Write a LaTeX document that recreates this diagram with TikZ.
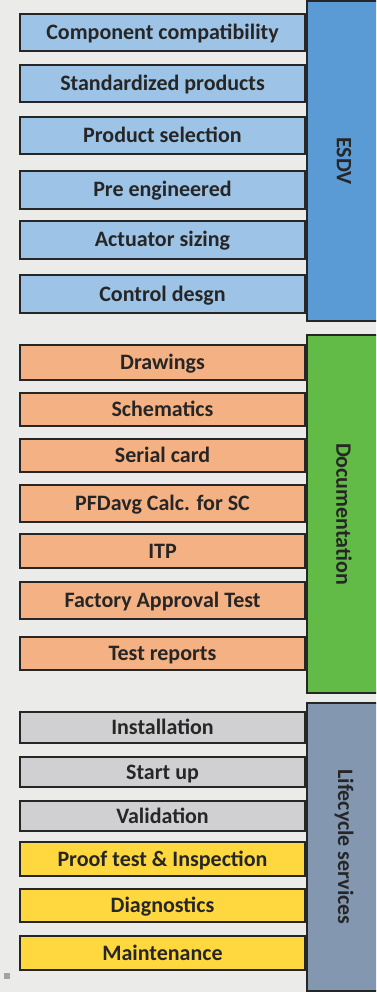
\documentclass[tikz,border=0pt]{standalone}
\usepackage{fontspec}
\setmainfont{Carlito}
\definecolor{bg}{HTML}{EBEBE9}
\definecolor{ink}{HTML}{262626}
\definecolor{lblue}{HTML}{9DC3E6}
\definecolor{dblue}{HTML}{5B9BD5}
\definecolor{peach}{HTML}{F4B183}
\definecolor{leaf}{HTML}{62BB46}
\definecolor{slate}{HTML}{8497B0}
\definecolor{lgray}{HTML}{D0D0D2}
\definecolor{sun}{HTML}{FFD83F}
\definecolor{dot}{HTML}{A3A3A3}
\tikzset{
  item/.style={draw=ink, line width=1.2pt, text=ink, minimum width=285pt,
    inner sep=0pt, text height=19pt, text depth=5pt,
    font=\fontsize{22}{26}\selectfont\bfseries},
  group/.style={draw=ink, line width=1.2pt, text=ink, rotate=-90,
    minimum height=74pt, inner sep=0pt, font=\fontsize{22}{26}\selectfont\bfseries}
}
\begin{document}
\begin{tikzpicture}[x=1pt,y=-1pt]
\fill[bg] (0,0) rectangle (376,992);
\useasboundingbox (0,0) rectangle (376,992);
\begin{scope}
\clip (0,0) rectangle (376,992);
% group bars on the right
\node[group, fill=dblue, minimum width=320pt] (esdv) at (344,161) {ESDV};
\node[group, fill=leaf, minimum width=358pt] (doc) at (344,514) {Documentation};
\node[group, fill=slate, minimum width=288pt] (life) at (344,847) {Lifecycle services};
\end{scope}
% ESDV items
\node[item, fill=lblue, minimum height=37pt] (e1) at (162.5,32.5) {Component compatibility};
\node[item, fill=lblue, minimum height=37pt] (e2) at (162.5,83.5) {Standardized products};
\node[item, fill=lblue, minimum height=37pt] (e3) at (162.5,135.5) {Product selection};
\node[item, fill=lblue, minimum height=38pt] (e4) at (162.5,190) {Pre engineered};
\node[item, fill=lblue, minimum height=38pt] (e5) at (162.5,240) {Actuator sizing};
\node[item, fill=lblue, minimum height=38pt] (e6) at (162.5,294) {Control desgn};
% Documentation items
\node[item, fill=peach, minimum height=35pt] (d1) at (162.5,362.5) {Drawings};
\node[item, fill=peach, minimum height=33pt] (d2) at (162.5,409.5) {Schematics};
\node[item, fill=peach, minimum height=33pt] (d3) at (162.5,455.5) {Serial card};
\node[item, fill=peach, minimum height=37pt] (d4) at (162.5,503.5) {PFDavg Calc. for SC};
\node[item, fill=peach, minimum height=34pt] (d5) at (162.5,551) {ITP};
\node[item, fill=peach, minimum height=37pt] (d6) at (162.5,600.5) {Factory Approval Test};
\node[item, fill=peach, minimum height=33pt] (d7) at (162.5,653.5) {Test reports};
% Lifecycle items
\node[item, fill=lgray, minimum height=31pt] (l1) at (162.5,727.5) {Installation};
\node[item, fill=lgray, minimum height=30pt] (l2) at (162.5,772) {Start up};
\node[item, fill=lgray, minimum height=30pt] (l3) at (162.5,816) {Validation};
\node[item, fill=sun, minimum height=34pt] (l4) at (162.5,859) {Proof test \& Inspection};
\node[item, fill=sun, minimum height=33pt] (l5) at (162.5,905.5) {Diagnostics};
\node[item, fill=sun, minimum height=34pt] (l6) at (162.5,953) {Maintenance};
% small marker at lower left
\fill[dot] (4,973) rectangle (10,979);
\end{tikzpicture}
\end{document}
